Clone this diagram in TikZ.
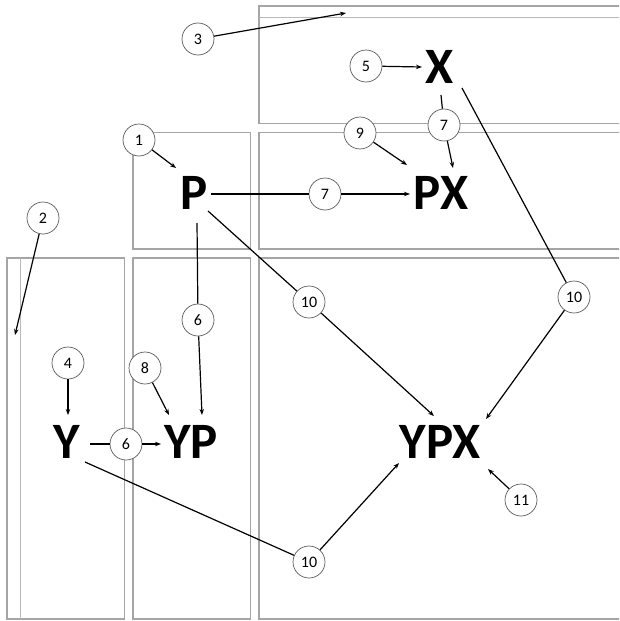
\documentclass[tikz,border=0pt]{standalone}
\usepackage{fontspec}
\setmainfont{Carlito}
\usetikzlibrary{arrows.meta,calc}
\definecolor{boxgray}{RGB}{165,165,165}
\definecolor{innergray}{RGB}{185,185,185}
\definecolor{circgray}{RGB}{90,90,90}
\begin{document}
\begin{tikzpicture}[x=1pt,y=-1pt,
 frame/.style={draw=boxgray, line width=1.3pt},
 innerline/.style={draw=innergray, line width=0.9pt},
 num/.style={circle, draw=circgray, fill=white, line width=0.7pt, minimum size=32pt, inner sep=0pt, font=\fontsize{16}{16}\selectfont},
 big/.style={inner sep=0pt, font=\fontsize{51}{51}\selectfont\bfseries},
 link/.style={draw=black, line width=1.2pt},
 arr/.style={link, -{Stealth[length=6pt,width=4.5pt]}}]
\useasboundingbox (0,0) rectangle (619,621);
\clip (0,0) rectangle (619,621);
% boxes
\draw[frame] (625,6) -- (259,6) -- (259,123.5) -- (625,123.5);
\draw[innerline] (259,17.5) -- (625,17.5);
\draw[frame] (625,132.5) -- (259,132.5) -- (259,249) -- (625,249);
\draw[frame] (625,258) -- (259,258) -- (259,619) -- (625,619);
\draw[frame] (133,132.5) rectangle (250.5,249);
\draw[frame] (133,258) rectangle (250.5,619);
\draw[frame] (7,258) rectangle (124.5,619);
\draw[innerline] (20.5,258) -- (20.5,619);
% letters
\node[big] (X) at (440,67) {X};
\node[big] (P) at (194,193) {P};
\node[big] (PX) at (441,193) {PX};
\node[big] (Y) at (67,442) {Y};
\node[big] (YP) at (191,442) {YP};
\node[big] (YPX) at (440,442) {YPX};
% numbered circles
\node[num] (c1) at (139,140) {1};
\node[num] (c2) at (43,218) {2};
\node[num] (c3) at (198,39) {3};
\node[num] (c4) at (68,363) {4};
\node[num] (c5) at (366,66) {5};
\node[num] (c7t) at (444,125) {7};
\node[num] (c9) at (360,133) {9};
\node[num] (c7m) at (325,194) {7};
\node[num] (c6m) at (198,320) {6};
\node[num] (c8) at (145,368) {8};
\node[num] (c6l) at (126,444) {6};
\node[num] (c10a) at (309,302) {10};
\node[num] (c10b) at (574,297) {10};
\node[num] (c10c) at (309,562) {10};
\node[num] (c11) at (521,500) {11};
\coordinate (a2) at (15,335);
\coordinate (a3) at (346,13);
% connectors
\draw[arr] (c1) -- ([shift={(-18,-25)}]P.center);
\draw[arr] (c2) -- (a2);
\draw[arr] (c3) -- (a3);
\draw[arr] (c4) -- ([shift={(1,-27)}]Y.center);
\draw[arr] (c5) -- ([shift={(-18,0)}]X.center);
\draw[link] ([shift={(1,28)}]X.center) -- (c7t);
\draw[arr] (c7t) -- ([shift={(12,-25)}]PX.center);
\draw[arr] (c9) -- ([shift={(-34,-28)}]PX.center);
\draw[link] ([shift={(17,1)}]P.center) -- (c7m);
\draw[arr] (c7m) -- ([shift={(-31,1)}]PX.center);
\draw[link] ([shift={(14,18)}]P.center) -- (c10a);
\draw[arr] (c10a) -- ([shift={(-6,-26)}]YPX.center);
\draw[link] ([shift={(22,21)}]X.center) -- (c10b);
\draw[arr] (c10b) -- ([shift={(46,-23)}]YPX.center);
\draw[link] ([shift={(3,30)}]P.center) -- (c6m);
\draw[arr] (c6m) -- ([shift={(11,-27)}]YP.center);
\draw[arr] (c8) -- ([shift={(-22,-27)}]YP.center);
\draw[link] ([shift={(23,2)}]Y.center) -- (c6l);
\draw[arr] (c6l) -- ([shift={(-30,2)}]YP.center);
\draw[link] ([shift={(18,20)}]Y.center) -- (c10c);
\draw[arr] (c10c) -- ([shift={(-41,21)}]YPX.center);
\draw[arr] (c11) -- ([shift={(48,27)}]YPX.center);
\end{tikzpicture}
\end{document}
